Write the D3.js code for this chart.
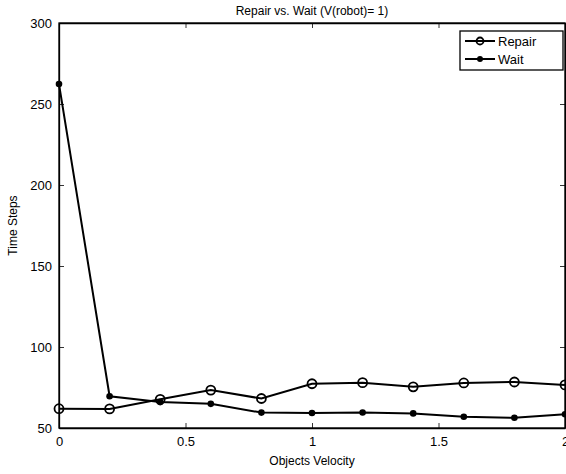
<!DOCTYPE html>
<html><head><meta charset="utf-8">
<script src="https://cdn.jsdelivr.net/npm/d3@7"></script>
<style>body{margin:0;background:#fff;} svg{display:block;font-family:"Liberation Sans",Arial,sans-serif;}</style>
</head><body>
<script>
const velocity = [0, 0.2, 0.4, 0.6, 0.8, 1.0, 1.2, 1.4, 1.6, 1.8, 2.0];
const repair = [61.9, 61.8, 67.7, 73.4, 68.2, 77.3, 78.0, 75.4, 77.8, 78.4, 76.6];
const wait = [262.3, 69.6, 66.0, 64.9, 59.5, 59.3, 59.6, 59.0, 56.9, 56.3, 58.5];
const xTicks = [0, 0.5, 1, 1.5, 2];
const yTicks = [50, 100, 150, 200, 250, 300];
const seriesNames = ["Repair", "Wait"];

(function () {
const W = 566, H = 474;
const m = {left: 59, right: 1, top: 23, bottom: 46};
const svg = d3.select("body").append("svg").attr("width", W).attr("height", H);
const x = d3.scaleLinear().domain([0, 2]).range([m.left, W - m.right]);
const y = d3.scaleLinear().domain([50, 300]).range([H - m.bottom, m.top]);

const g = svg.append("g");
const fmt = d => String(d);
const axB = g.append("g").attr("transform", `translate(0,${H - m.bottom})`)
  .call(d3.axisBottom(x).tickValues(xTicks).tickFormat(fmt).tickSizeInner(-5).tickSizeOuter(0).tickPadding(9));
const axT = g.append("g").attr("transform", `translate(0,${m.top})`)
  .call(d3.axisTop(x).tickValues(xTicks).tickFormat("").tickSizeInner(-5).tickSizeOuter(0));
const axL = g.append("g").attr("transform", `translate(${m.left},0)`)
  .call(d3.axisLeft(y).tickValues(yTicks).tickFormat(fmt).tickSizeInner(-5).tickSizeOuter(0).tickPadding(7));
const axR = g.append("g").attr("transform", `translate(${W - m.right},0)`)
  .call(d3.axisRight(y).tickValues(yTicks).tickFormat("").tickSizeInner(-5).tickSizeOuter(0));
[axB, axT, axL, axR].forEach(a => {
  a.select(".domain").attr("stroke", "#000").attr("stroke-width", 1.3);
  a.selectAll(".tick line").attr("stroke", "#000").attr("stroke-width", 0.8);
  a.selectAll("text").attr("font-size", 13).attr("fill", "#000").attr("font-family", "Liberation Sans, Arial, sans-serif");
});
g.append("rect").attr("x", m.left).attr("y", m.top).attr("width", W - m.right - m.left).attr("height", H - m.bottom - m.top)
  .attr("fill", "none").attr("stroke", "#000").attr("stroke-width", 1.3);

const line = d3.line().x(d => x(d[0])).y(d => y(d[1]));
const rData = velocity.map((v, i) => [v, repair[i]]);
const wData = velocity.map((v, i) => [v, wait[i]]);
g.append("path").datum(rData).attr("d", line).attr("fill", "none").attr("stroke", "#000").attr("stroke-width", 2);
g.append("path").datum(wData).attr("d", line).attr("fill", "none").attr("stroke", "#000").attr("stroke-width", 2);
g.selectAll(".rc").data(rData).enter().append("circle")
  .attr("cx", d => x(d[0])).attr("cy", d => y(d[1])).attr("r", 4.5)
  .attr("fill", "none").attr("stroke", "#000").attr("stroke-width", 1.8);
g.selectAll(".wc").data(wData).enter().append("circle")
  .attr("cx", d => x(d[0])).attr("cy", d => y(d[1])).attr("r", 3.3)
  .attr("fill", "#000");

svg.append("text").attr("x", (m.left + W - m.right) / 2).attr("y", 15).attr("text-anchor", "middle")
  .attr("font-size", 12).text("Repair vs. Wait (V(robot)= 1)");
svg.append("text").attr("x", (m.left + W - m.right) / 2).attr("y", 465).attr("text-anchor", "middle")
  .attr("font-size", 12).text("Objects Velocity");
svg.append("text").attr("transform", `translate(17,${(m.top + H - m.bottom) / 2}) rotate(-90)`).attr("text-anchor", "middle")
  .attr("font-size", 12).text("Time Steps");

const lg = svg.append("g").attr("transform", "translate(460,31)");
lg.append("rect").attr("x", 0).attr("y", 0).attr("width", 103).attr("height", 39).attr("fill", "#fff").attr("stroke", "#000").attr("stroke-width", 1.3);
seriesNames.forEach((n, i) => {
  const yy = 10 + i * 18;
  lg.append("line").attr("x1", 5).attr("x2", 35).attr("y1", yy).attr("y2", yy).attr("stroke", "#000").attr("stroke-width", 2);
  if (i === 0) lg.append("circle").attr("cx", 20).attr("cy", yy).attr("r", 3.5).attr("fill", "none").attr("stroke", "#000").attr("stroke-width", 1.8);
  else lg.append("circle").attr("cx", 20).attr("cy", yy).attr("r", 3).attr("fill", "#000");
  lg.append("text").attr("x", 38).attr("y", yy + 4.5).attr("font-size", 13).text(n);
});
})();
</script>
</body></html>
